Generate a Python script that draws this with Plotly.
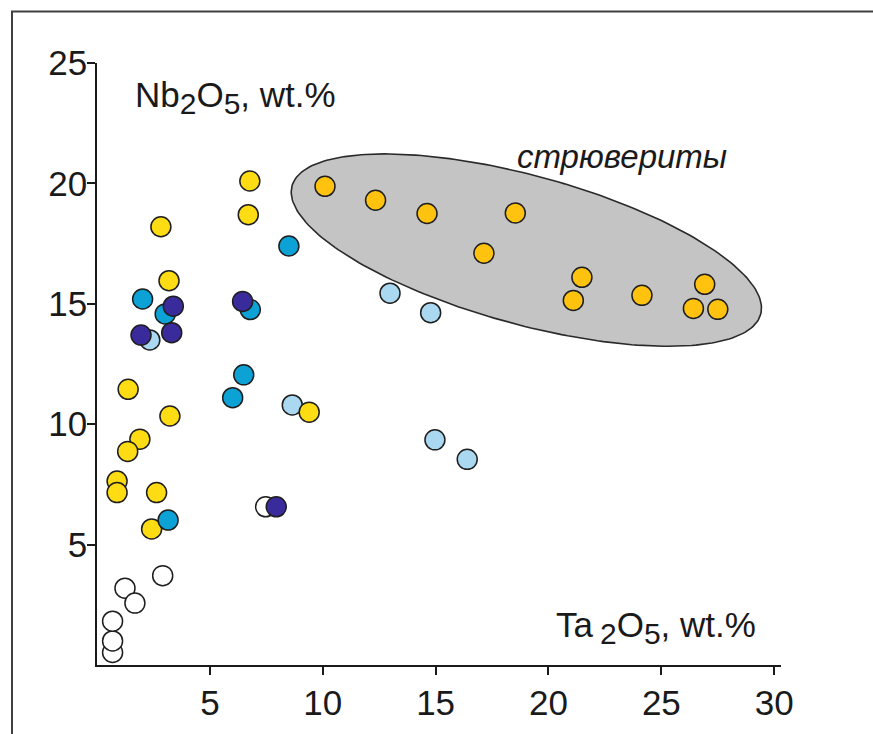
import numpy as np
import plotly.graph_objects as go

# ---- data (Ta2O5, Nb2O5 wt.%) ----
white_x = [0.69, 0.69, 0.69, 1.24, 1.68, 2.91, 7.47]
white_y = [0.52, 1.00, 1.82, 3.19, 2.57, 3.71, 6.57]

lightblue_x = [2.34, 8.65, 12.98, 14.78, 14.97, 16.40]
lightblue_y = [13.50, 10.80, 15.44, 14.63, 9.35, 8.54]

yellow_x = [6.77, 6.70, 2.83, 3.19, 1.38, 3.23, 1.90, 1.36, 0.89, 0.89, 2.64, 2.42, 9.40]
yellow_y = [20.10, 18.70, 18.20, 15.96, 11.45, 10.34, 9.38, 8.87, 7.64, 7.16, 7.16, 5.65, 10.50]

blue_x = [8.50, 2.02, 3.02, 6.79, 6.50, 6.01, 3.15]
blue_y = [17.40, 15.20, 14.58, 14.76, 12.05, 11.10, 6.02]

navy_x = [3.38, 1.95, 3.31, 6.45, 7.94]
navy_y = [14.90, 13.70, 13.80, 15.10, 6.57]

gold_x = [10.10, 12.34, 14.62, 18.53, 17.14, 21.48, 21.10, 24.14, 26.92, 26.42, 27.50]
gold_y = [19.88, 19.30, 18.75, 18.77, 17.10, 16.10, 15.14, 15.35, 15.81, 14.81, 14.77]

x_ticks = [5, 10, 15, 20, 25, 30]
y_ticks = [5, 10, 15, 20, 25]

# ---- layout geometry ----
W, H = 873, 734
ML, MR, MT, MB = 97, 92, 63, 63
X_RANGE = [0, 30.3]
Y_RANGE = [0, 25]
sx = (W - ML - MR) / (X_RANGE[1] - X_RANGE[0])   # px per x unit
sy = (H - MT - MB) / (Y_RANGE[1] - Y_RANGE[0])   # px per y unit

# ellipse (стрювериты field): centre in data units, semi-axes in x-units, tilt in screen degrees
ell_cx, ell_cy = 19.02, 17.23
ell_a, ell_b = 10.77, 3.32
ell_tilt = 15.5
t = np.linspace(0, 2 * np.pi, 241)
th = np.deg2rad(ell_tilt)
ax_px, bx_px = ell_a * sx, ell_b * sx
dx = ax_px * np.cos(t) * np.cos(th) - bx_px * np.sin(t) * np.sin(th)
dy = ax_px * np.cos(t) * np.sin(th) + bx_px * np.sin(t) * np.cos(th)
ell_x = ell_cx + dx / sx
ell_y = ell_cy - dy / sy

fig = go.Figure()
fig.add_trace(go.Scatter(x=ell_x, y=ell_y, mode="lines", fill="toself",
                         fillcolor="#c4c4c4", line=dict(color="#2a2a2a", width=1.6),
                         hoverinfo="skip", showlegend=False))

def add_pts(xs, ys, color):
    fig.add_trace(go.Scatter(x=xs, y=ys, mode="markers", showlegend=False,
                             cliponaxis=False,
                             marker=dict(size=20, color=color, opacity=1,
                                         line=dict(color="#1e1e1e", width=1.5))))

add_pts(white_x, white_y, "#ffffff")
add_pts(lightblue_x, lightblue_y, "#a9d8f0")
add_pts(yellow_x, yellow_y, "#fedc14")
add_pts(blue_x, blue_y, "#0ca2d6")
add_pts(navy_x, navy_y, "#3a2b9c")
add_pts(gold_x, gold_y, "#ffc30f")

font_family = "Liberation Sans, Arial, sans-serif"
SUB = '<sub><span style="font-size:30px">{}</span></sub>'

nb_text = "Nb" + SUB.format("2") + "O" + SUB.format("5") + ", wt.%"
ta_text = "Ta&#8201;" + SUB.format("2") + "O" + SUB.format("5") + ", wt.%"

fig.add_annotation(x=1.6, y=23.56, xref="x", yref="y", xanchor="left", yanchor="middle",
                   text=nb_text, showarrow=False,
                   font=dict(family=font_family, size=35, color="#1a1a1a"))
fig.add_annotation(x=29.3, y=1.56, xref="x", yref="y", xanchor="right", yanchor="middle",
                   text=ta_text, showarrow=False,
                   font=dict(family=font_family, size=35, color="#1a1a1a"))
fig.add_annotation(x=23.26, y=21.1, xref="x", yref="y", xanchor="center", yanchor="middle",
                   text="<i>стрювериты</i>", showarrow=False,
                   font=dict(family=font_family, size=33, color="#1a1a1a"))

# outer frame (left + top visible, extends past right/bottom of the picture)
fig.add_shape(type="rect", xref="paper", yref="paper",
              x0=(12 - ML) / (W - ML - MR), x1=1.3,
              y0=-0.3, y1=1 + (MT - 11) / (H - MT - MB),
              line=dict(color="#404040", width=2), fillcolor="rgba(0,0,0,0)", layer="below")

axis_common = dict(showgrid=False, zeroline=False, showline=True, linecolor="#1a1a1a",
                   linewidth=1.5, ticks="outside", ticklen=8, tickwidth=1.5,
                   tickcolor="#1a1a1a",
                   tickfont=dict(family=font_family, size=35, color="#1a1a1a"))

fig.update_xaxes(range=X_RANGE, tickvals=x_ticks, ticktext=[str(v) for v in x_ticks],
                 ticklabelstandoff=-2, **axis_common)
fig.update_yaxes(range=Y_RANGE, tickvals=y_ticks, ticktext=[str(v) for v in y_ticks],
                 ticklabelstandoff=-7, **axis_common)

fig.update_layout(width=W, height=H, margin=dict(l=ML, r=MR, t=MT, b=MB),
                  plot_bgcolor="white", paper_bgcolor="white", showlegend=False)

fig.write_html("out.html")
